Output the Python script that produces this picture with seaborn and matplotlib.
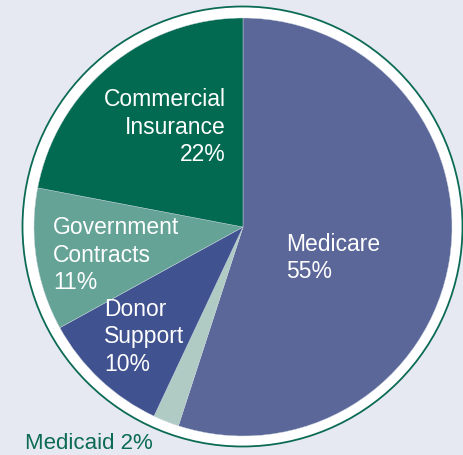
import matplotlib
matplotlib.use("Agg")
import matplotlib.pyplot as plt
import seaborn as sns

# revenue sources (share of total, %)
sources = ['Medicare', 'Medicaid', 'Donor Support', 'Government Contracts', 'Commercial Insurance']
shares = [55, 2, 10, 11, 22]
slice_labels = ['Medicare\n55%', '', 'Donor\nSupport\n10%', 'Government\nContracts\n11%',
                'Commercial\nInsurance\n22%']
outside_label = 'Medicaid 2%'

colors = ['#5b6699', '#afcbc4', '#40528f', '#64a396', '#016a50']
bg = '#e6e8f2'
green = '#0b6b55'

sns.set_theme(style='white')
plt.rcParams['font.family'] = ['Liberation Sans', 'DejaVu Sans']

fig = plt.figure(figsize=(4.64, 4.56), dpi=100, facecolor=bg)
ax = fig.add_axes([0, 0, 1, 1])

# white ring with thin green outline behind the pie
ring = plt.Circle((242.5, 228.5), 220, facecolor='white', edgecolor=green, lw=1.3, zorder=0)
ax.add_patch(ring)

ax.pie(shares, colors=colors, startangle=90, counterclock=False,
       center=(243, 228), radius=209, frame=True,
       wedgeprops=dict(linewidth=0.3, edgecolor='#c8d4dc'))
ax.set_xlim(0, 464)
ax.set_ylim(0, 456)
ax.set_aspect('auto')
ax.axis('off')

# label layout: (x, y, ha)
label_pos = [(286, 198, 'left'), None, (104, 119, 'left'), (53, 201, 'left'), (226, 329, 'right')]
for lab, pos in zip(slice_labels, label_pos):
    if pos is None:
        continue
    x, y, ha = pos
    ax.text(x, y, lab, ha=ha, va='center', color='white', fontsize=16.5, linespacing=1.25)

ax.text(25, 12, outside_label, ha='left', va='center', color=green, fontsize=16)

fig.savefig('out.png', dpi=100, facecolor=bg)
